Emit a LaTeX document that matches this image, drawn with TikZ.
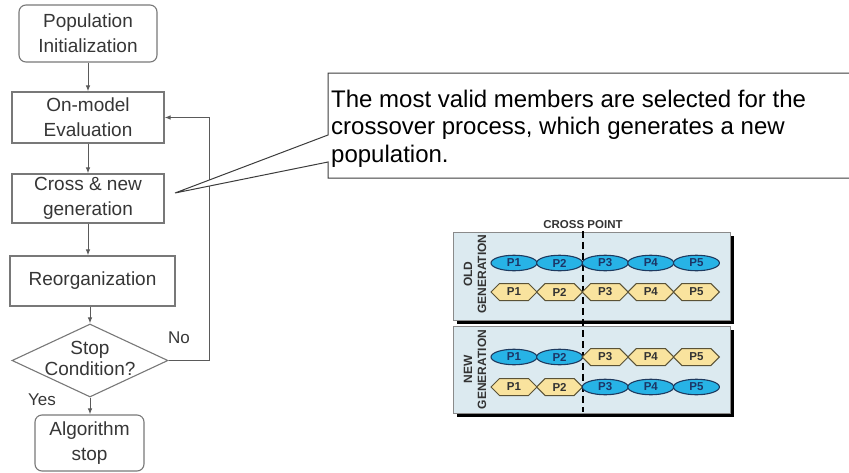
\documentclass[tikz,border=0pt]{standalone}
\usepackage{fontspec}
\setmainfont{Liberation Sans}
\usetikzlibrary{shapes.geometric,arrows.meta}
\definecolor{boxline}{HTML}{787878}
\definecolor{flowtext}{HTML}{363636}
\definecolor{arrowgray}{HTML}{5A5A5A}
\definecolor{calloutline}{HTML}{3C3C3C}
\definecolor{panelfill}{HTML}{DCEAF0}
\definecolor{panelline}{HTML}{8A8A8A}
\definecolor{ellfill}{HTML}{27B3E6}
\definecolor{ellline}{HTML}{1E3A5F}
\definecolor{ellText}{HTML}{1C3566}
\definecolor{hexfill}{HTML}{F9E39E}
\definecolor{hexline}{HTML}{5A5236}
\definecolor{labeltext}{HTML}{333333}
\begin{document}
\begin{tikzpicture}[x=1pt,y=-1pt,
  flowbox/.style={draw=boxline, line width=1.1pt, fill=white, text=flowtext,
    font=\fontsize{19}{25}\selectfont, align=center, inner sep=0pt},
  roundbox/.style={flowbox, rounded corners=7pt},
  flowarrow/.style={draw=arrowgray, line width=1pt, -{Latex[length=6pt,width=4.5pt]}},
  flowlabel/.style={text=flowtext, font=\fontsize{17}{20}\selectfont, inner sep=0pt},
  callout/.style={draw=calloutline, line width=1pt, fill=white},
  panel/.style={draw=panelline, line width=0.8pt, fill=panelfill},
  shadowfill/.style={fill=black},
  genlabel/.style={text=labeltext, font=\bfseries\fontsize{12}{14}\selectfont,
    align=center, rotate=90, inner sep=0pt},
  cutline/.style={draw=black, line width=1.3pt, dash pattern=on 7pt off 4pt},
  ellgene/.style={ellipse, draw=ellline, line width=1.1pt, fill=ellfill, text=ellText,
    minimum width=46pt, minimum height=15.5pt, inner sep=0pt,
    font=\bfseries\fontsize{11.5}{12}\selectfont},
  hexgene/.style={draw=hexline, line width=1pt, fill=hexfill, line join=miter},
  hextext/.style={text=labeltext, inner sep=0pt, font=\bfseries\fontsize{11.5}{12}\selectfont}
]
\useasboundingbox (0,0) rectangle (849,472);
\clip (0,0) rectangle (849,472);

% ---------------- flowchart ----------------
\node[roundbox, minimum width=138pt, minimum height=57pt] (pop) at (88,33.5) {Population\\Initialization};
\node[flowbox, minimum width=152pt, minimum height=51pt] (eval) at (88,117.5) {On-model\\Evaluation};
\node[flowbox, minimum width=152pt, minimum height=49pt] (cross) at (88,198.5) {Cross \& new\\generation};
\node[flowbox, minimum width=165pt, minimum height=50pt] (reorg) at (92.5,281) {Reorganization};
\node[diamond, draw=boxline, line width=1.1pt, fill=white, inner sep=0pt,
      minimum width=156pt, minimum height=73pt] (stop) at (90,360.5) {};
\node[text=flowtext, font=\fontsize{19}{21}\selectfont, align=center, inner sep=0pt] (stoptext) at (90,358) {Stop\\Condition?};
\node[roundbox, minimum width=109pt, minimum height=56pt] (algo) at (89.5,443) {Algorithm\\stop};

\draw[flowarrow] (pop) -- (eval);
\draw[flowarrow] (eval) -- (cross);
\draw[flowarrow] (cross.south) -- (cross.south |- reorg.north);
\draw[flowarrow] (stop.north |- reorg.south) -- (stop.north);
\draw[flowarrow] (stop.south) -- (stop.south |- algo.north);
\coordinate (loopx) at (209,0);
\draw[flowarrow] (stop.east) -- (stop.east -| loopx) |- (eval.east);

\node[flowlabel] (nolbl) at (179,338) {No};
\node[flowlabel] (yeslbl) at (42,400) {Yes};

% ---------------- callout ----------------
\coordinate (tip) at (175,193);
\draw[callout] (860,73) -- (328,73) -- (328,135) -- (tip) -- (328,162) -- (328,178) -- (860,178);
\node[anchor=north west, align=left, inner sep=0pt, text=black,
      font=\fontsize{24}{27.5}\selectfont] (note) at (331,89.5)
  {The most valid members are selected for the\\crossover process, which generates a new\\population.};

% ---------------- crossover sketch ----------------
\fill[shadowfill] (457,236) rectangle (734,324);
\draw[panel] (453,232) rectangle (730,320);
\fill[shadowfill] (457,330) rectangle (734,417);
\draw[panel] (453,326) rectangle (730,413);

\node[text=labeltext, font=\bfseries\fontsize{11.5}{13}\selectfont, inner sep=0pt] (cp) at (583,224.5) {CROSS POINT};
\coordinate (cutbot) at (583,412);
\draw[cutline] (cp.south) ++(0,2) -- (cp.south |- cutbot);

\node[genlabel] (oldlbl) at (475,274) {OLD\\GENERATION};
\node[genlabel] (newlbl) at (475,369.5) {NEW\\GENERATION};

% genes: row 1 all ellipses, row 2 all hexagons
\foreach \k/\lab in {0/P1,1/P2,2/P3,3/P4,4/P5}{
  \pgfmathsetmacro{\cx}{514+45.6*\k}
  \node[ellgene] (a\k) at (\cx,263) {\lab};
  \draw[hexgene] (\cx-23,292) -- (\cx-14.5,283.5) -- (\cx+14.5,283.5) -- (\cx+23,292)
                 -- (\cx+14.5,300.5) -- (\cx-14.5,300.5) -- cycle;
  \node[hextext] (b\k) at (\cx,292) {\lab};
}
% new generation: parts swapped at the cross point
\foreach \k/\lab in {0/P1,1/P2}{
  \pgfmathsetmacro{\cx}{514+45.6*\k}
  \node[ellgene] (c\k) at (\cx,357) {\lab};
  \draw[hexgene] (\cx-23,387) -- (\cx-14.5,378.5) -- (\cx+14.5,378.5) -- (\cx+23,387)
                 -- (\cx+14.5,395.5) -- (\cx-14.5,395.5) -- cycle;
  \node[hextext] (d\k) at (\cx,387) {\lab};
}
\foreach \k/\lab in {2/P3,3/P4,4/P5}{
  \pgfmathsetmacro{\cx}{514+45.6*\k}
  \draw[hexgene] (\cx-23,357) -- (\cx-14.5,348.5) -- (\cx+14.5,348.5) -- (\cx+23,357)
                 -- (\cx+14.5,365.5) -- (\cx-14.5,365.5) -- cycle;
  \node[hextext] (c\k) at (\cx,357) {\lab};
  \node[ellgene] (d\k) at (\cx,387) {\lab};
}
\end{tikzpicture}
\end{document}
